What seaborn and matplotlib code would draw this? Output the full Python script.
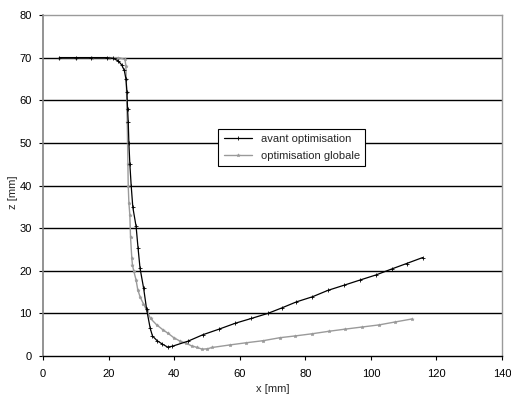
import numpy as np
import matplotlib
matplotlib.use("Agg")
import matplotlib.pyplot as plt
import seaborn as sns

# values
avant_x = [5, 10, 14.5, 19.5, 21.5, 23, 24, 24.8, 25.3, 25.6, 25.8, 26.0, 26.2,
           26.5, 26.9, 27.4, 28.4, 29.0, 29.6, 30.7, 31.6, 32.7, 33.4, 34.8,
           36.4, 38.0, 39.5, 44.3, 48.8, 53.7, 58.7, 63.5, 68.6, 72.9, 77.3,
           82.2, 86.9, 91.8, 96.6, 101.5, 106.3, 110.9, 115.8]
avant_z = [70, 70, 70, 70, 69.8, 69.2, 68.3, 67, 65, 62, 58, 55, 50,
           45, 40, 34.9, 30.4, 25.3, 20.6, 15.9, 11, 6.5, 4.7, 3.6,
           2.8, 2.1, 2.3, 3.5, 5.0, 6.3, 7.7, 8.8, 10.0, 11.3, 12.7,
           13.9, 15.4, 16.6, 17.8, 19.0, 20.4, 21.7, 23.1]

glob_x = [5, 10, 15, 20, 23, 25, 25.3, 25.4, 25.5, 25.6, 25.7, 25.8, 25.9,
          26.0, 26.2, 26.5, 26.7, 27.1, 27.3, 27.7, 28.4, 28.9, 29.6, 30.6,
          31.6, 32.8, 34.7, 36.5, 38.2, 39.9, 41.8, 43.6, 45.3, 47.0, 48.6,
          50.1, 51.6, 57.0, 61.9, 67.2, 72.3, 76.8, 81.9, 87.2, 92.1, 97.3,
          102.5, 107.5, 112.6]
glob_z = [70, 70, 70, 70, 70, 69.6, 68, 65, 62, 58, 55, 50, 45,
          40, 36, 33, 27.9, 22.9, 21.3, 19.9, 17.8, 15.6, 13.9, 12.3,
          10.8, 8.8, 7.3, 6.2, 5.3, 4.3, 3.5, 3.0, 2.4, 2.0, 1.6,
          1.7, 2.0, 2.6, 3.1, 3.6, 4.3, 4.7, 5.2, 5.8, 6.3, 6.8,
          7.3, 8.0, 8.7]

sns.set_style("white")
plt.rcParams['font.family'] = ['Liberation Sans', 'DejaVu Sans']

fig = plt.figure(figsize=(5.11, 4.03), dpi=100)
ax = fig.add_axes([0.0841, 0.1166, 0.8983, 0.8462])

for yv in range(10, 80, 10):
    ax.axhline(yv, color='black', lw=1.0, zorder=1)

gray = '#9a9a9a'
sns.lineplot(x=glob_x, y=glob_z, sort=False, ax=ax, color=gray, lw=1.0,
             linestyle='-', marker='*', markersize=2.5, markeredgewidth=0.4,
             markeredgecolor=gray, markerfacecolor=gray,
             label='optimisation globale', zorder=3)
sns.lineplot(x=avant_x, y=avant_z, sort=False, ax=ax, color='black', lw=0.9,
             linestyle='-', marker='+', markersize=3, markeredgewidth=0.6,
             markeredgecolor='black', markerfacecolor='black',
             label='avant optimisation', zorder=4)

ax.set_xlim(0, 140)
ax.set_ylim(0, 80)
ax.set_xticks(range(0, 141, 20))
ax.set_yticks(range(0, 81, 10))
ax.tick_params(labelsize=8, length=3, width=0.8, direction='out',
               colors='black', pad=6)
ax.tick_params(axis='y', left=True, pad=5)
ax.tick_params(axis='x', bottom=True)

for side in ['top', 'right']:
    ax.spines[side].set_color(gray)
    ax.spines[side].set_linewidth(1.0)
ax.spines['left'].set_color('#808080')
ax.spines['left'].set_linewidth(1.2)
ax.spines['bottom'].set_color('black')
ax.spines['bottom'].set_linewidth(1.0)

ax.set_xlabel('x [mm]', fontsize=8, labelpad=4)
ax.set_ylabel('z [mm]', fontsize=8)
ax.yaxis.set_label_coords(-0.055, 0.48)

handles, labels = ax.get_legend_handles_labels()
leg = ax.legend(handles[::-1], labels[::-1], loc='upper left',
                bbox_to_anchor=(0.37, 0.683), fontsize=8, fancybox=False,
                framealpha=1, edgecolor='black', borderpad=0.5,
                handlelength=2.5, labelspacing=0.6)
leg.get_frame().set_linewidth(0.8)

fig.savefig('out.png', dpi=100)
